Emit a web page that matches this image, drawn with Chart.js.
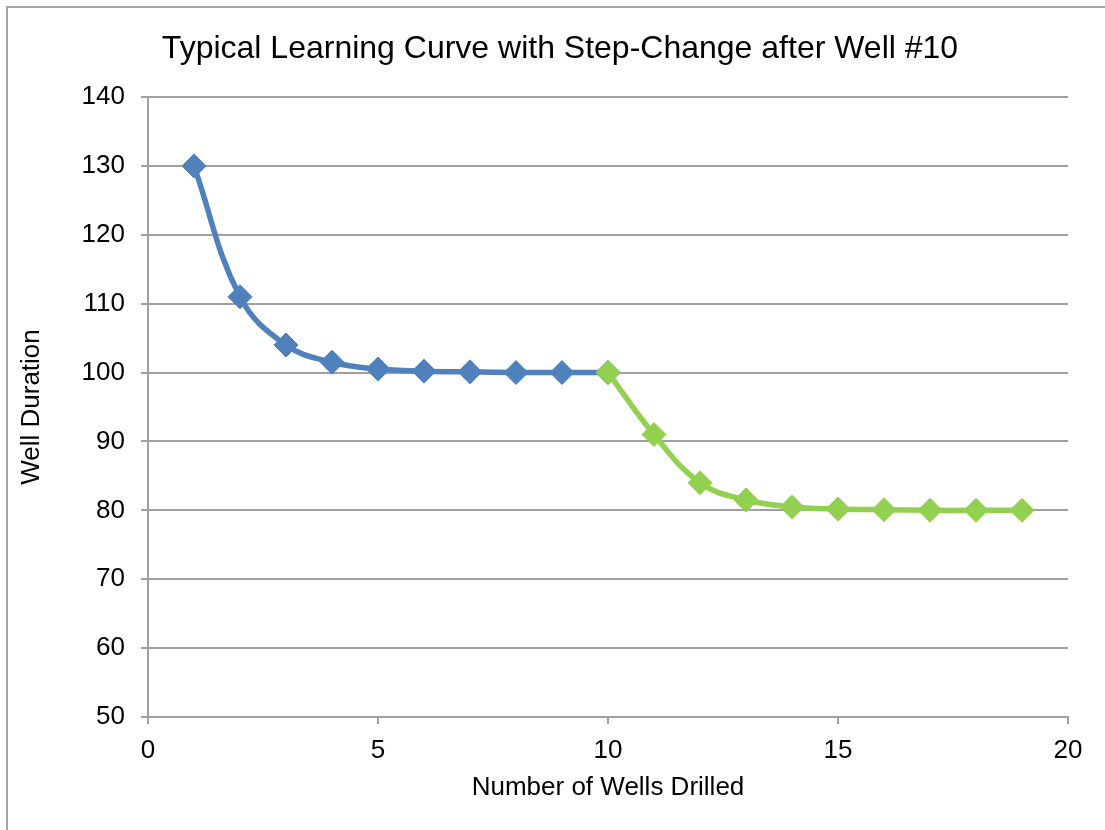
<!DOCTYPE html>
<html>
<head>
<meta charset="utf-8">
<script src="https://cdn.jsdelivr.net/npm/chart.js@4"></script>
<style>
  html, body { margin: 0; padding: 0; background: #fff; }
  #wrap { position: relative; width: 1105px; height: 830px; }
  #frame { position: absolute; left: 6px; top: 6px; width: 1110px; height: 840px;
           border-left: 2px solid #a6a6a6; border-top: 2px solid #a6a6a6; box-sizing: border-box; }
  canvas { position: absolute; left: 0; top: 0; }
</style>
</head>
<body>
<div id="wrap">
  <div id="frame"></div>
  <canvas id="c" width="1105" height="830"></canvas>
</div>
<script>
// Wells before the step change (1-10) and after it (10-19)
const wellsBefore = [1, 2, 3, 4, 5, 6, 7, 8, 9, 10];
const durationBefore = [130, 111, 104, 101.5, 100.5, 100.2, 100.1, 100, 100, 100];
const wellsAfter = [10, 11, 12, 13, 14, 15, 16, 17, 18, 19];
const durationAfter = [100, 91, 84, 81.5, 80.5, 80.2, 80.1, 80, 80, 80];

const xTicks = [0, 5, 10, 15, 20];
const yTicks = [50, 60, 70, 80, 90, 100, 110, 120, 130, 140];

const chartTitle = 'Typical Learning Curve with Step-Change after Well #10';
const xTitle = 'Number of Wells Drilled';
const yTitle = 'Well Duration';

const FONT = '"Liberation Sans", Arial, sans-serif';
const GRID = '#a0a0a0';

const toPoints = (xs, ys) => xs.map((x, i) => ({ x: x, y: ys[i] }));

// Title and axis titles drawn as plain text
const textPlugin = {
  id: 'texts',
  afterDraw(chart) {
    const { ctx, chartArea: a } = chart;
    ctx.save();
    ctx.fillStyle = '#000';
    ctx.textAlign = 'center';
    ctx.textBaseline = 'middle';
    ctx.font = '32px ' + FONT;
    ctx.fillText(chartTitle, 560, 49);
    ctx.font = '26px ' + FONT;
    ctx.fillText(xTitle, (a.left + a.right) / 2, 788);
    ctx.translate(32, (a.top + a.bottom) / 2);
    ctx.rotate(-Math.PI / 2);
    ctx.fillText(yTitle, 0, 0);
    ctx.restore();
  }
};

const series = (label, xs, ys, color, order) => ({
  label: label,
  data: toPoints(xs, ys),
  showLine: true,
  borderColor: color,
  backgroundColor: color,
  borderWidth: 5.5,
  tension: 0.4,
  pointStyle: 'rectRot',
  pointRadius: 12,
  pointHoverRadius: 12,
  pointBorderWidth: 1,
  pointBorderColor: color,
  pointBackgroundColor: color,
  order: order
});

new Chart(document.getElementById('c'), {
  type: 'scatter',
  data: {
    datasets: [
      series('Before step change', wellsBefore, durationBefore, '#4f81bd', 1),
      series('After step change', wellsAfter, durationAfter, '#92d050', 0)
    ]
  },
  options: {
    responsive: false,
    animation: false,
    layout: { padding: { left: 0, top: 97, right: 37, bottom: 0 } },
    plugins: {
      legend: { display: false },
      tooltip: { enabled: false },
      title: { display: false }
    },
    scales: {
      x: {
        type: 'linear',
        min: xTicks[0],
        max: xTicks[xTicks.length - 1],
        afterBuildTicks: (s) => { s.ticks = xTicks.map(v => ({ value: v })); },
        afterFit: (s) => { s.height = 113; },
        grid: { drawOnChartArea: false, drawTicks: true, tickLength: 7, color: GRID, lineWidth: 2 },
        border: { display: true, color: GRID, width: 2 },
        ticks: { color: '#000', font: { family: FONT, size: 26 }, padding: 11, maxRotation: 0 }
      },
      y: {
        type: 'linear',
        min: yTicks[0],
        max: yTicks[yTicks.length - 1],
        afterBuildTicks: (s) => { s.ticks = yTicks.map(v => ({ value: v })); },
        afterFit: (s) => { s.width = 148; },
        grid: { drawOnChartArea: true, drawTicks: true, tickLength: 7, color: GRID, lineWidth: 2 },
        border: { display: true, color: GRID, width: 2 },
        ticks: { color: '#000', font: { family: FONT, size: 26 }, padding: 16 }
      }
    }
  },
  plugins: [textPlugin]
});
</script>
</body>
</html>
